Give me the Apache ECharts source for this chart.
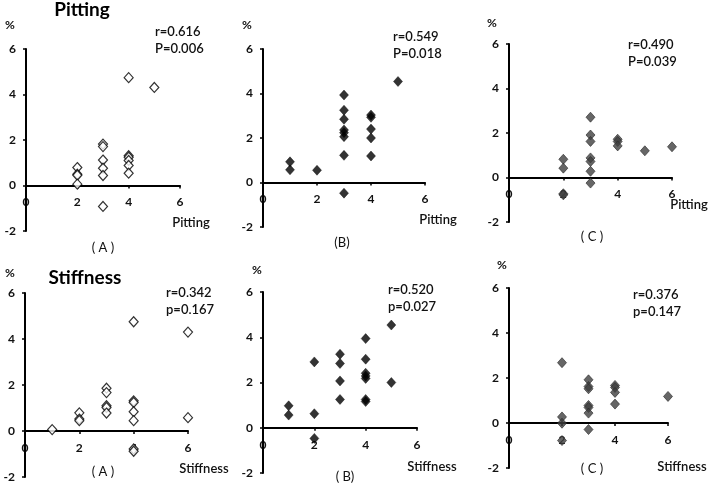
<!DOCTYPE html>
<html>
<head>
<meta charset="utf-8">
<script src="https://cdn.jsdelivr.net/npm/echarts@6/dist/echarts.min.js"></script>
<style>
html,body{margin:0;padding:0;background:#fff;}
#wrap{position:relative;width:708px;height:492px;background:#fff;overflow:hidden;}
.layer{position:absolute;}
</style>
</head>
<body>
<div id="wrap"></div>
<script>
// ---- data (x = score, y = %) ----
var pittingA = [[2,0.79],[2,0.50],[2,0.45],[2,0.06],[3,1.82],[3,1.71],[3,1.12],[3,0.76],[3,0.44],[3,-0.92],[4,4.74],[4,1.31],[4,1.24],[4,1.10],[4,0.88],[4,0.54],[5,4.31]];
var pittingB = [[1,0.93],[1,0.57],[2,0.55],[3,3.93],[3,3.25],[3,2.84],[3,2.36],[3,2.24],[3,2.06],[3,1.22],[3,-0.48],[4,3.03],[4,2.93],[4,2.40],[4,2.00],[4,1.19],[5,4.54]];
var pittingC = [[2,0.82],[2,0.42],[2,-0.73],[2,-0.78],[3,2.71],[3,1.91],[3,1.62],[3,0.88],[3,0.72],[3,0.28],[3,-0.25],[4,1.72],[4,1.62],[4,1.42],[5,1.20],[6,1.38]];
var stiffA = [[1,0.06],[2,0.79],[2,0.52],[2,0.45],[3,1.86],[3,1.67],[3,1.10],[3,1.02],[3,0.78],[4,4.75],[4,1.31],[4,1.24],[4,0.84],[4,0.45],[4,-0.78],[4,-0.88],[6,4.30],[6,0.58]];
var stiffB = [[1,0.97],[1,0.56],[2,2.91],[2,0.62],[2,-0.47],[3,3.25],[3,2.84],[3,2.07],[3,1.25],[4,3.94],[4,3.03],[4,2.41],[4,2.29],[4,2.18],[4,1.25],[4,1.16],[5,4.54],[5,2.00]];
var stiffC = [[2,2.68],[2,0.27],[2,-0.01],[2,-0.78],[3,1.92],[3,1.62],[3,1.52],[3,0.78],[3,0.69],[3,0.44],[3,-0.29],[4,1.67],[4,1.58],[4,1.36],[4,0.84],[6,1.18]];

var stats = [["r=0.616","P=0.006"],["r=0.549","P=0.018"],["r=0.490","P=0.039"],["r=0.342","p=0.167"],["r=0.520","p=0.027"],["r=0.376","p=0.147"]];
var panelLabels = ["( A )","(B)","( C )","( A )","( B)","( C )"];
var axisNames = ["Pitting","Pitting","Pitting","Stiffness","Stiffness","Stiffness"];
var rowTitles = ["Pitting","Stiffness"];
var xTicks = {min:0, max:6, step:2};
var yTicks = {min:-2, max:6, step:2};

// ---- layout (page coordinates) ----
var boxes = [[0,0,236,258],[236,0,236,258],[472,0,236,258],[0,258,236,234],[236,258,236,234],[472,258,236,234]];
var grids = [
  {left:26, top:49, width:154, height:182},
  {left:263, top:49, width:162, height:178},
  {left:509, top:44, width:163, height:178},
  {left:25, top:293, width:163, height:184},
  {left:263, top:292, width:154, height:181},
  {left:509, top:288, width:159, height:180}
];
var statPos = [[155,32],[393,37],[628,45],[166,293],[388,290],[633,295]];
var labelPos = [[103,248],[342,243],[592,237],[103,472],[345,477],[592,469]];
var namePos = [[191,223],[438,220],[689,205],[204,469],[432,467],[682,467]];
var pctPos = [[5,25],[242,25],[487,23],[5,273],[252,270],[497,265]];
var titlePos = [[82,10],[85,278]];

var seriesData = [pittingA,pittingB,pittingC,stiffA,stiffB,stiffC];
var styles = [
  {color:'#ffffff', borderColor:'#000', borderWidth:1.2},
  {color:'#000000', borderColor:'#000', borderWidth:0.5},
  {color:'#404040', borderColor:'#2a2a2a', borderWidth:0.8},
  {color:'#ffffff', borderColor:'#000', borderWidth:1.2},
  {color:'#000000', borderColor:'#000', borderWidth:0.5},
  {color:'#404040', borderColor:'#2a2a2a', borderWidth:0.8}
];

var FONT = 'Lato';
var wrap = document.getElementById('wrap');

function addLayer(x, y, w, h) {
  var d = document.createElement('div');
  d.className = 'layer';
  d.style.left = x + 'px'; d.style.top = y + 'px';
  d.style.width = w + 'px'; d.style.height = h + 'px';
  wrap.appendChild(d);
  return d;
}

// ---- text layer (underneath the panels) ----
var texts = [];
for (var k = 0; k < 6; k++) {
  texts.push({type:'text', x:statPos[k][0], y:statPos[k][1], style:{text:stats[k][0], font:'600 13px '+FONT, fill:'#111', textVerticalAlign:'middle'}});
  texts.push({type:'text', x:statPos[k][0], y:statPos[k][1]+17, style:{text:stats[k][1], font:'600 13px '+FONT, fill:'#111', textVerticalAlign:'middle'}});
  texts.push({type:'text', x:labelPos[k][0], y:labelPos[k][1], style:{text:panelLabels[k], font:'13px '+FONT, fill:'#111', textAlign:'center', textVerticalAlign:'middle'}});
  texts.push({type:'text', x:namePos[k][0], y:namePos[k][1], style:{text:axisNames[k], font:'600 13px '+FONT, fill:'#111', textAlign:'center', textVerticalAlign:'middle'}});
  texts.push({type:'text', x:pctPos[k][0], y:pctPos[k][1], style:{text:'%', font:'bold 12px '+FONT, fill:'#111', textVerticalAlign:'middle'}});
}
for (var r = 0; r < 2; r++) {
  texts.push({type:'text', x:titlePos[r][0], y:titlePos[r][1], style:{text:rowTitles[r], font:'bold 19px '+FONT, fill:'#000', textAlign:'center', textVerticalAlign:'middle'}});
}
echarts.init(addLayer(0, 0, 708, 492)).setOption({animation:false, graphic:texts});

// ---- scatter panels ----
for (var i = 0; i < 6; i++) {
  var b = boxes[i], ox = b[0], oy = b[1];
  var div = addLayer(ox, oy, b[2], b[3]);
  var g = grids[i];
  // x axis crosses the y axis at value 0: shift it up from the grid bottom
  var zeroShift = g.height * (0 - yTicks.min) / (yTicks.max - yTicks.min);
  echarts.init(div).setOption({
    animation:false,
    grid:[{left:g.left - ox, top:g.top - oy, width:g.width, height:g.height}],
    xAxis:[{
      type:'value', min:xTicks.min, max:xTicks.max, interval:xTicks.step,
      position:'bottom', offset:-zeroShift,
      axisLine:{show:true, onZero:false, lineStyle:{color:'#000', width:2}},
      axisTick:{show:true, length:3, lineStyle:{color:'#000', width:1.5}},
      axisLabel:{show:true, margin:11, color:'#111', fontFamily:FONT, fontWeight:'bold', fontSize:12},
      splitLine:{show:false}
    }],
    yAxis:[{
      show:true, type:'value', min:yTicks.min, max:yTicks.max, interval:yTicks.step, position:'left',
      axisLine:{show:true, onZero:false, lineStyle:{color:'#000', width:2}},
      axisTick:{show:true, length:3, lineStyle:{color:'#000', width:1.5}},
      axisLabel:{show:true, margin:10, color:'#111', fontFamily:FONT, fontWeight:'bold', fontSize:12},
      splitLine:{show:false}
    }],
    series:[{
      type:'scatter', data:seriesData[i],
      symbol:'diamond', symbolSize:[9,10], itemStyle:styles[i], z:5,
      // vertical axis line at x = 0, drawn through the x scale
      markLine:{
        silent:true, symbol:['none','none'], label:{show:false},
        lineStyle:{color:'#000', width:2, type:'solid'},
        data:[{xAxis:xTicks.min}]
      }
    }]
  });
}
</script>
</body>
</html>
